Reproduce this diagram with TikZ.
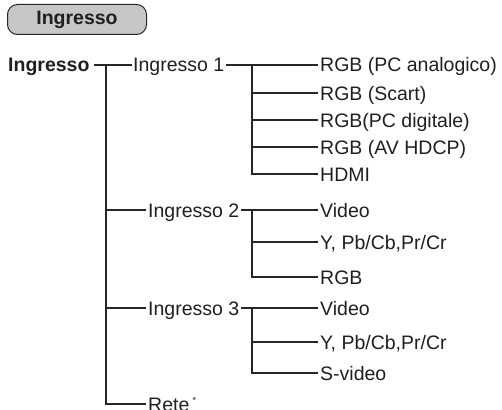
\documentclass[tikz,border=0pt]{standalone}
\usepackage{fontspec}
\setmainfont{Liberation Sans}
\begin{document}
\begin{tikzpicture}[x=1pt,y=-1pt,
  lbl/.style={anchor=west,inner sep=0pt,text height=14pt,text depth=0pt,font=\fontsize{19.5}{22}\selectfont,text=black!88},
  blbl/.style={lbl,font=\fontsize{19.5}{22}\selectfont\bfseries},
  conn/.style={line width=1.1pt,draw=black!85},
  pill/.style={draw=black!85,line width=1pt,fill=black!22,rounded corners=10pt,minimum width=139pt,minimum height=30pt,inner sep=0pt,font=\fontsize{19.5}{22}\selectfont\bfseries,text=black!88}]
\useasboundingbox (0,0) rectangle (502,409);
% header
\node[pill] (hdr) at (77,19.5) {Ingresso};
% root
\node[blbl] (root) at (8,65) {Ingresso};
% level 1
\node[lbl] (i1) at (133,65) {Ingresso 1};
\node[lbl] (i2) at (148,210) {Ingresso 2};
\node[lbl] (i3) at (148,308) {Ingresso 3};
\node[lbl] (rete) at (148,404) {Rete\,\textsuperscript{\fontsize{9}{9}\selectfont*}};
% leaves of Ingresso 1
\node[lbl] (a1) at (320,65) {RGB (PC analogico)};
\node[lbl] (a2) at (320,93) {RGB (Scart)};
\node[lbl] (a3) at (320,120) {RGB(PC digitale)};
\node[lbl] (a4) at (320,147) {RGB (AV HDCP)};
\node[lbl] (a5) at (320,174) {HDMI};
% leaves of Ingresso 2
\node[lbl] (b1) at (320,210) {Video};
\node[lbl] (b2) at (320,242) {Y, Pb/Cb,Pr/Cr};
\node[lbl] (b3) at (320,277) {RGB};
% leaves of Ingresso 3
\node[lbl] (c1) at (320,308) {Video};
\node[lbl] (c2) at (320,342) {Y, Pb/Cb,Pr/Cr};
\node[lbl] (c3) at (320,373) {S-video};
% trunk coordinates
\coordinate (t0) at (106,65);
\coordinate (t1) at (252,65);
\coordinate (t2) at (252,210);
\coordinate (t3) at (252,308);
% root connectors
\draw[conn] ([xshift=4pt]root.east) -- ([xshift=-1pt]i1.west);
\draw[conn] (t0) |- ([xshift=-2pt]rete.west);
\draw[conn] (t0 |- i2.west) -- ([xshift=-2pt]i2.west);
\draw[conn] (t0 |- i3.west) -- ([xshift=-2pt]i3.west);
% Ingresso 1
\draw[conn] ([xshift=2pt]i1.east) -- ([xshift=-2pt]a1.west);
\draw[conn] (t1) |- ([xshift=-2pt]a5.west);
\draw[conn] (t1 |- a2.west) -- ([xshift=-2pt]a2.west);
\draw[conn] (t1 |- a3.west) -- ([xshift=-2pt]a3.west);
\draw[conn] (t1 |- a4.west) -- ([xshift=-2pt]a4.west);
% Ingresso 2
\draw[conn] ([xshift=2pt]i2.east) -- ([xshift=-2pt]b1.west);
\draw[conn] (t2) |- ([xshift=-2pt]b3.west);
\draw[conn] (t2 |- b2.west) -- ([xshift=-2pt]b2.west);
% Ingresso 3
\draw[conn] ([xshift=2pt]i3.east) -- ([xshift=-2pt]c1.west);
\draw[conn] (t3) |- ([xshift=-2pt]c3.west);
\draw[conn] (t3 |- c2.west) -- ([xshift=-2pt]c2.west);
\end{tikzpicture}
\end{document}
